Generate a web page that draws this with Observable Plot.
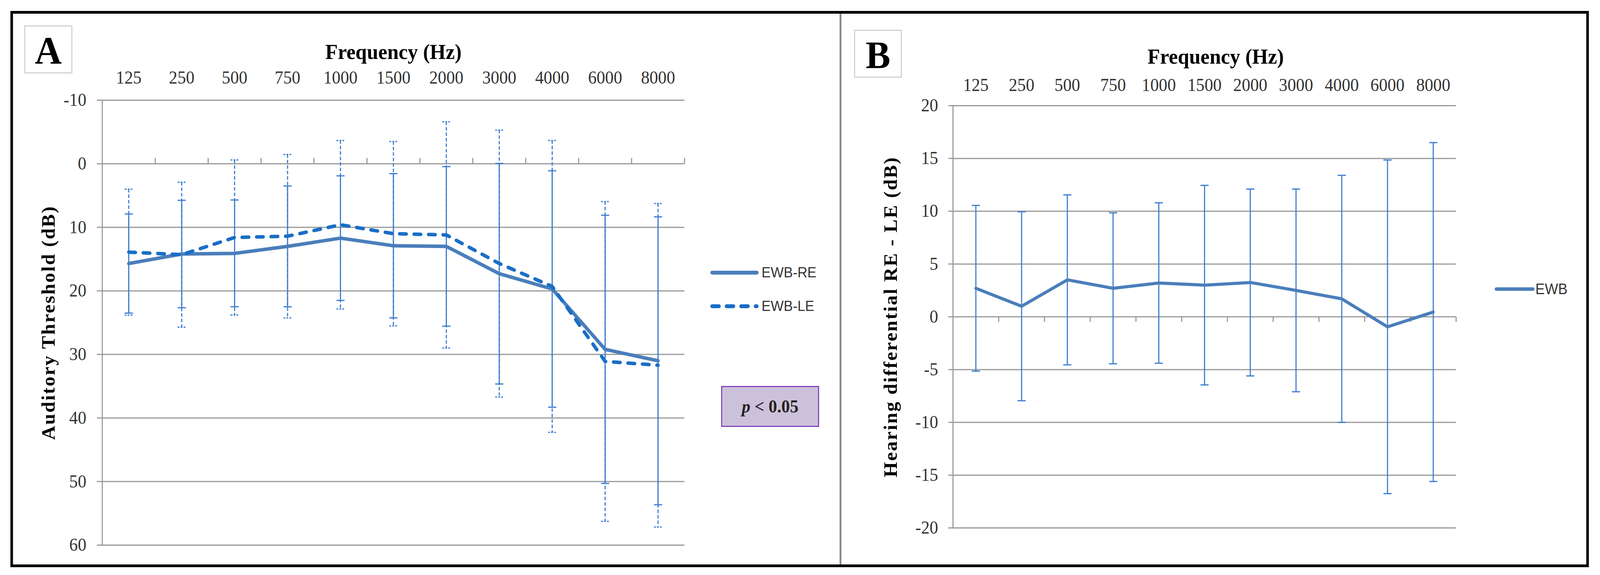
<!DOCTYPE html>
<html>
<head>
<meta charset="utf-8">
<script src="https://cdn.jsdelivr.net/npm/d3@7"></script>
<script src="https://cdn.jsdelivr.net/npm/@observablehq/plot@0.6"></script>
<style>
  html, body { margin: 0; padding: 0; background: #fff; overflow: hidden; }
  #wrap { position: relative; width: 4309px; height: 1472px; overflow: hidden; background: #fff; transform-origin: 0 0; }
  .abs { position: absolute; }
  .serif { font-family: "Liberation Serif", "Times New Roman", serif; }
  .sans { font-family: "Liberation Sans", Arial, sans-serif; }
</style>
</head>
<body>
<div id="wrap"></div>
<script>
// ---------------- data ----------------
const freqs = ["125", "250", "500", "750", "1000", "1500", "2000", "3000", "4000", "6000", "8000"];
// Panel A: auditory threshold (dB), mean and SD
const reMean = [15.7, 14.2, 14.1, 13.0, 11.7, 12.9, 13.0, 17.3, 19.7, 29.2, 31.0];
const reSD   = [7.8, 8.45, 8.4, 9.5, 9.8, 11.35, 12.55, 17.35, 18.6, 21.1, 22.65];
const leMean = [13.9, 14.3, 11.6, 11.4, 9.6, 11.0, 11.2, 15.7, 19.3, 31.1, 31.7];
const leSD   = [9.9, 11.4, 12.2, 12.85, 13.25, 14.5, 17.8, 21.0, 22.95, 25.15, 25.45];
// Panel B: hearing differential RE - LE (dB), mean and SD
const diffMean = [2.7, 1.0, 3.5, 2.7, 3.2, 3.0, 3.25, 2.5, 1.7, -0.95, 0.45];
const diffSD   = [7.85, 8.95, 8.05, 7.15, 7.6, 9.45, 8.85, 9.6, 11.7, 15.8, 16.05];
const yTicksA = [-10, 0, 10, 20, 30, 40, 50, 60];
const yTicksB = [-20, -15, -10, -5, 0, 5, 10, 15, 20];
const seriesA = ["EWB-RE", "EWB-LE"];
const seriesB = ["EWB"];

// ---------------- helpers ----------------
const n = freqs.length;
const centers = d3.range(n).map(i => i + 0.5);
const bounds = d3.range(1, n + 1);
const rowsA = freqs.map((f, i) => ({
  pos: i + 0.5,
  re: reMean[i], reLo: reMean[i] - reSD[i], reHi: reMean[i] + reSD[i],
  le: leMean[i], leLo: leMean[i] - leSD[i], leHi: leMean[i] + leSD[i]
}));
const rowsB = freqs.map((f, i) => ({
  pos: i + 0.5, d: diffMean[i], lo: diffMean[i] - diffSD[i], hi: diffMean[i] + diffSD[i]
}));

const rad = s => Math.sqrt(s / Math.PI);
const capSym = {draw(ctx, s) { const r = rad(s); ctx.moveTo(-r, 0); ctx.lineTo(r, 0); }};
const tickUp = {draw(ctx, s) { const r = rad(s); ctx.moveTo(0, 0); ctx.lineTo(0, -r); }};
const tickDown = {draw(ctx, s) { const r = rad(s); ctx.moveTo(0, 0); ctx.lineTo(0, r); }};

const GRID = "#999999";
const RE_LINE = "#4a7ebb";
const LE_LINE = "#1a6ec6";
const BAR = "#3b7bd0";
const SERIF = "'Liberation Serif', 'Times New Roman', serif";

const wrap = document.getElementById("wrap");
// the browser viewport may be narrower than the 4309px design: fit the design to it horizontally
const kx = Math.min(1, (window.innerWidth || 4309) / 4309);
wrap.style.transform = `scaleX(${kx})`;

// ---------------- Panel A ----------------
const svgA = Plot.plot({
  width: 2263, height: 1472,
  marginLeft: 275, marginRight: 420, marginTop: 256, marginBottom: 77,
  x: {domain: [0, n], axis: null},
  y: {domain: [-10, 60], reverse: true, axis: null},
  style: {fontFamily: SERIF, fontSize: "46px", color: "#333", background: "transparent", overflow: "visible"},
  marks: [
    Plot.ruleY(yTicksA, {stroke: GRID, strokeWidth: 3}),
    Plot.axisY({ticks: yTicksA, tickSize: 14, tickPadding: 29, stroke: GRID, strokeWidth: 3, fill: "#333", tickFormat: d => String(d), label: null}),
    Plot.frame({anchor: "left", stroke: GRID, strokeWidth: 3}),
    Plot.dot(bounds, {x: d => d, y: 0, symbol: tickUp, r: 15, stroke: GRID, strokeWidth: 3}),
    Plot.axisX({ticks: centers, anchor: "top", tickSize: 0, tickPadding: 43, fill: "#333", tickFormat: d => freqs[Math.floor(d)], label: null}),
    // LE error bars (dashed)
    Plot.ruleX(rowsA, {x: "pos", y1: "leLo", y2: "leHi", stroke: BAR, strokeWidth: 3, strokeDasharray: "9,5"}),
    Plot.dot(rowsA, {x: "pos", y: "leLo", symbol: capSym, r: 11, stroke: BAR, strokeWidth: 3, strokeDasharray: "5,3"}),
    Plot.dot(rowsA, {x: "pos", y: "leHi", symbol: capSym, r: 11, stroke: BAR, strokeWidth: 3, strokeDasharray: "5,3"}),
    // RE error bars (solid)
    Plot.ruleX(rowsA, {x: "pos", y1: "reLo", y2: "reHi", stroke: BAR, strokeWidth: 3}),
    Plot.dot(rowsA, {x: "pos", y: "reLo", symbol: capSym, r: 11, stroke: BAR, strokeWidth: 3}),
    Plot.dot(rowsA, {x: "pos", y: "reHi", symbol: capSym, r: 11, stroke: BAR, strokeWidth: 3}),
    // lines
    Plot.line(rowsA, {x: "pos", y: "re", stroke: RE_LINE, strokeWidth: 9, strokeLinejoin: "round"}),
    Plot.line(rowsA, {x: "pos", y: "le", stroke: LE_LINE, strokeWidth: 9, strokeLinejoin: "round", strokeLinecap: "round", strokeDasharray: "18,21"}),
    // titles
    Plot.text(["Frequency (Hz)"], {frameAnchor: "top", lineAnchor: "middle", dy: -123, fontWeight: "bold", fontSize: 55, fill: "#000"}),
    Plot.text(["Auditory Threshold (dB)"], {frameAnchor: "left", rotate: -90, textAnchor: "middle", lineAnchor: "middle", dx: -144, fontWeight: "bold", fontSize: 50, fill: "#000"})
  ]
});
svgA.style.position = "absolute";
svgA.style.left = "0px";
svgA.style.top = "0px";
wrap.appendChild(svgA);

// ---------------- Panel B ----------------
const svgB = Plot.plot({
  width: 2046, height: 1472,
  marginLeft: 303, marginRight: 388, marginTop: 270, marginBottom: 121,
  x: {domain: [0, n], axis: null},
  y: {domain: [-20, 20], axis: null},
  style: {fontFamily: SERIF, fontSize: "46px", color: "#333", background: "transparent", overflow: "visible"},
  marks: [
    Plot.ruleY(yTicksB, {stroke: GRID, strokeWidth: 3}),
    Plot.axisY({ticks: yTicksB, tickSize: 12, tickPadding: 28, stroke: GRID, strokeWidth: 3, fill: "#333", tickFormat: d => String(d), label: null}),
    Plot.frame({anchor: "left", stroke: GRID, strokeWidth: 3}),
    Plot.dot(bounds, {x: d => d, y: 0, symbol: tickDown, r: 13, stroke: GRID, strokeWidth: 3}),
    Plot.axisX({ticks: centers, anchor: "top", tickSize: 0, tickPadding: 38, fill: "#333", tickFormat: d => freqs[Math.floor(d)], label: null}),
    Plot.ruleX(rowsB, {x: "pos", y1: "lo", y2: "hi", stroke: BAR, strokeWidth: 3}),
    Plot.dot(rowsB, {x: "pos", y: "lo", symbol: capSym, r: 11, stroke: BAR, strokeWidth: 3}),
    Plot.dot(rowsB, {x: "pos", y: "hi", symbol: capSym, r: 11, stroke: BAR, strokeWidth: 3}),
    Plot.line(rowsB, {x: "pos", y: "d", stroke: RE_LINE, strokeWidth: 8, strokeLinejoin: "round"}),
    Plot.text(["Frequency (Hz)"], {frameAnchor: "top", lineAnchor: "middle", dy: -125, dx: 30, fontWeight: "bold", fontSize: 55, fill: "#000"}),
    Plot.text(["Hearing differential RE - LE (dB)"], {frameAnchor: "left", rotate: -90, textAnchor: "middle", lineAnchor: "middle", dx: -167, fontWeight: "bold", fontSize: 50, fill: "#000"})
  ]
});
svgB.style.position = "absolute";
svgB.style.left = "2263px";
svgB.style.top = "0px";
wrap.appendChild(svgB);

// letter spacing on rotated titles
[svgA, svgB].forEach(svg => {
  d3.select(svg).selectAll("text")
    .filter(function() { const t = this.textContent; return t.startsWith("Auditory") || t.startsWith("Hearing"); })
    .style("letter-spacing", "3px");
});

// ---------------- overlays (legends, labels, frame) ----------------
function el(html, css) {
  const d = document.createElement("div");
  d.className = "abs";
  d.innerHTML = html;
  Object.assign(d.style, css);
  wrap.appendChild(d);
  return d;
}
function legendItem(left, top, lineW, label, color, dash, sw, fontPx) {
  const svg = `<svg width="${lineW + 10}" height="20" style="vertical-align:middle;overflow:visible">
    <line x1="5" y1="10" x2="${lineW + 5}" y2="10" stroke="${color}" stroke-width="${sw}" stroke-linecap="round" ${dash ? `stroke-dasharray="${dash}"` : ""}/></svg>`;
  el(`${svg}<span class="sans" style="font-size:${fontPx}px;color:#333;vertical-align:middle;margin-left:${lineW > 110 ? 8 : 2}px">${label}</span>`,
     {left: left + "px", top: top + "px", whiteSpace: "nowrap", lineHeight: "20px"});
}
legendItem(1913, 687, 120, seriesA[0], RE_LINE, null, 10, 37);
legendItem(1913, 773, 120, seriesA[1], LE_LINE, "18,21", 10, 37);
legendItem(4025, 729, 98, seriesB[0], RE_LINE, null, 9, 38);

// p-value box
el(`<span class="serif" style="font-weight:bold;font-size:46px;color:#222"><i>p</i> &lt; 0.05</span>`,
   {left: "1942px", top: "988px", width: "264px", height: "105px", boxSizing: "border-box",
    background: "#ccc1da", border: "3px solid #7f46bd", display: "flex", alignItems: "center", justifyContent: "center"});

// panel letters
el(`<span class="serif" style="font-weight:bold;font-size:100px;color:#000;line-height:1">A</span>`,
   {left: "65px", top: "65px", width: "130px", height: "123px", boxSizing: "border-box",
    border: "3px solid #d2d2d2", display: "flex", alignItems: "center", justifyContent: "center", paddingTop: "6px"});
el(`<span class="serif" style="font-weight:bold;font-size:100px;color:#000;line-height:1">B</span>`,
   {left: "2300px", top: "76px", width: "129px", height: "123px", boxSizing: "border-box",
    border: "3px solid #d2d2d2", display: "flex", alignItems: "center", justifyContent: "center", paddingTop: "6px"});

// divider and outer border
el("", {left: "2261px", top: "35px", width: "5px", height: "1412px", background: "#8a8a8a"});
el("", {left: "28px", top: "28px", width: "4251px", height: "1424px", boxSizing: "border-box", border: "7px solid #000"});
</script>
</body>
</html>
